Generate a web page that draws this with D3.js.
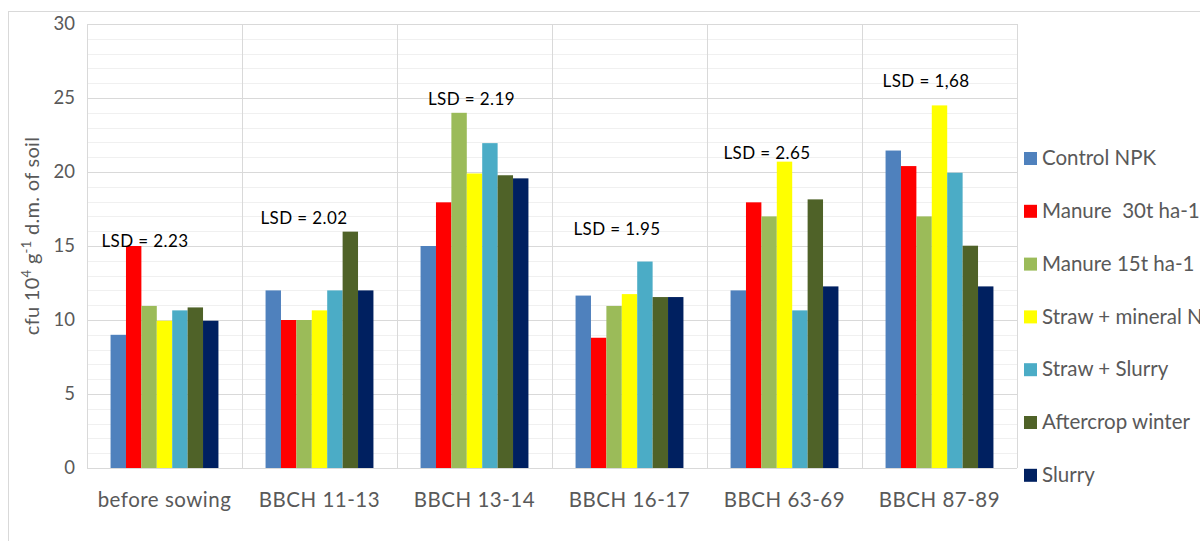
<!DOCTYPE html>
<html><head><meta charset="utf-8">
<script src="https://cdn.jsdelivr.net/npm/d3@7"></script>
<style>
html,body{margin:0;padding:0;background:#fff;overflow:hidden}
svg{display:block}
text{font-family:Lato,"Open Sans",sans-serif}
</style></head>
<body><svg id="chart" width="1200" height="541"></svg>
<script>
const categories = ["before sowing","BBCH 11-13","BBCH 13-14","BBCH 16-17","BBCH 63-69","BBCH 87-89"];
const seriesNames = ["Control NPK","Manure  30t ha-1","Manure 15t ha-1","Straw + mineral NPK","Straw + Slurry","Aftercrop winter","Slurry"];
const seriesColors = ["#4f81bd","#ff0000","#9bbb59","#ffff00","#4bacc6","#4f6228","#002060"];
const controlNPK   = [9.0, 12.0, 15.0, 11.65, 12.0, 21.45];
const manure30     = [15.0, 10.0, 17.95, 8.8, 17.95, 20.4];
const manure15     = [10.95, 10.0, 24.0, 10.95, 17.0, 17.0];
const strawMineral = [9.95, 10.65, 19.9, 11.75, 20.7, 24.5];
const strawSlurry  = [10.65, 12.0, 21.95, 13.95, 10.65, 19.95];
const aftercrop    = [10.85, 15.97, 19.78, 11.55, 18.15, 15.02];
const slurry       = [9.95, 12.0, 19.57, 11.55, 12.27, 12.27];
const lsdLabels = ["LSD = 2.23","LSD = 2.02","LSD = 2.19","LSD = 1.95","LSD = 2.65","LSD = 1,68"];
const lsdLevel  = [15.35, 16.9, 24.95, 16.15, 21.25, 26.15];
const yTicks = [0,5,10,15,20,25,30];
const yTitle = "cfu 10|4| g|-1| d.m. of soil";

const values = [controlNPK, manure30, manure15, strawMineral, strawSlurry, aftercrop, slurry];
const lsdDx = [-19.5,-15.5,-3,-12.5,-17.5,-13.5];

const svg = d3.select("#chart");
const margin = {left:87, right:183, top:24, bottom:73};
const W = 1200, H = 541;
const pw = W - margin.left - margin.right, ph = H - margin.top - margin.bottom;

// outer border
svg.append("rect").attr("x",8.5).attr("y",11.5).attr("width",1300).attr("height",600)
  .attr("fill","none").attr("stroke","#d9d9d9").attr("stroke-width",1);

const g = svg.append("g").attr("transform",`translate(${margin.left},${margin.top})`);
const x0 = d3.scaleBand().domain(categories).range([0,pw]).padding(0);
const bw = x0.bandwidth();
const x1 = d3.scaleBand().domain(d3.range(seriesNames.length)).range([bw*0.152, bw*0.848]).padding(0);
const y = d3.scaleLinear().domain([0,30]).range([ph,0]);

// minor gridlines
g.append("g").selectAll("line").data(d3.range(0,31,1).filter(v=>v%5!==0)).join("line")
  .attr("x1",0).attr("x2",pw).attr("y1",d=>Math.round(y(d))+0.5).attr("y2",d=>Math.round(y(d))+0.5)
  .attr("stroke","#f0f0f0");
// major gridlines
g.append("g").selectAll("line").data(yTicks).join("line")
  .attr("x1",0).attr("x2",pw).attr("y1",d=>Math.round(y(d))+0.5).attr("y2",d=>Math.round(y(d))+0.5)
  .attr("stroke","#d9d9d9");
// vertical gridlines
g.append("g").selectAll("line").data(d3.range(categories.length+1)).join("line")
  .attr("x1",i=>Math.round(i*bw)+0.5).attr("x2",i=>Math.round(i*bw)+0.5)
  .attr("y1",0).attr("y2",ph).attr("stroke","#d9d9d9");

// bars
const grp = g.append("g").selectAll("g").data(categories).join("g")
  .attr("transform",c=>`translate(${x0(c)},0)`);
grp.selectAll("rect").data((c,ci)=>values.map((s,si)=>({si, v:s[ci]}))).join("rect")
  .attr("x",d=>x1(d.si)).attr("width",x1.bandwidth())
  .attr("y",d=>y(d.v)).attr("height",d=>y(0)-y(d.v))
  .attr("fill",d=>seriesColors[d.si]);

// y axis
const yAxis = d3.axisLeft(y).tickValues(yTicks).tickSize(0).tickPadding(12);
const ya = g.append("g").call(yAxis);
ya.select(".domain").remove();
ya.selectAll("text").attr("font-size",18.5).attr("fill","#595959").style("font-family","Lato, sans-serif");

// x axis
const xAxis = d3.axisBottom(x0).tickSize(0).tickPadding(24.5);
const xa = g.append("g").attr("transform",`translate(0,${ph})`).call(xAxis);
xa.select(".domain").remove();
xa.selectAll("text").attr("font-size",20.5).attr("letter-spacing","0.5px").attr("fill","#595959").style("font-family","Lato, sans-serif");

// LSD labels
g.append("g").selectAll("text").data(lsdLabels).join("text")
  .attr("x",(d,i)=>x0(categories[i])+bw/2+lsdDx[i])
  .attr("y",(d,i)=>y(lsdLevel[i]))
  .attr("dy","0.35em").attr("text-anchor","middle")
  .attr("font-size",17).attr("letter-spacing","0.4px").attr("fill","#000").text(d=>d);

// y title
const parts = yTitle.split("|");
const yt = svg.append("text").attr("transform","translate(39,236) rotate(-90)")
  .attr("text-anchor","middle").attr("font-size",20).attr("letter-spacing","0.3px").attr("fill","#595959");
parts.forEach((p,i)=>{
  const t = yt.append("tspan").text(p);
  if(i%2===1){ t.attr("font-size",13).attr("baseline-shift","super"); }
});

// legend
const lg = svg.append("g").attr("transform","translate(1024,158)");
const li = lg.selectAll("g").data(seriesNames).join("g")
  .attr("transform",(d,i)=>`translate(0,${i*52.8})`);
li.append("rect").attr("x",0).attr("y",-6).attr("width",13).attr("height",13)
  .attr("fill",(d,i)=>seriesColors[i]);
li.append("text").attr("x",18).attr("y",0).attr("dy","0.35em")
  .style("white-space","pre")
  .attr("font-size",20.5).attr("fill","#595959").text(d=>d);
</script></body></html>
